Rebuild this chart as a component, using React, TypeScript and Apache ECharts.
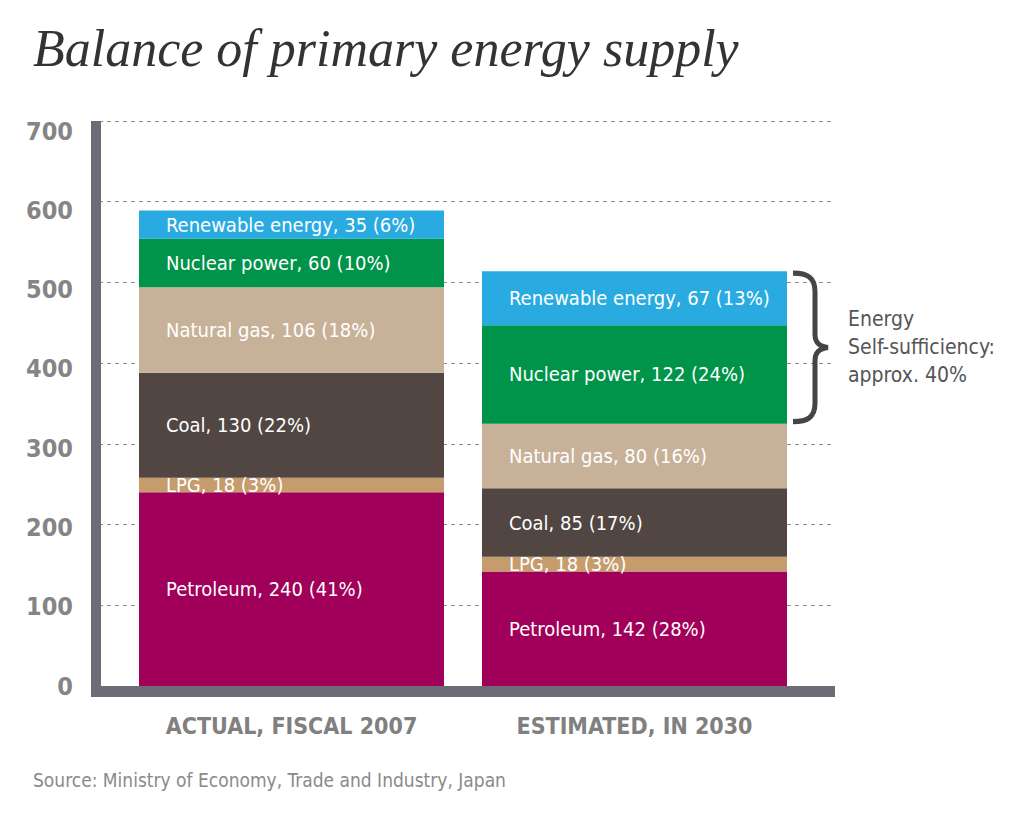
import React, { useEffect, useRef } from "react";
import * as echarts from "echarts";

const categories = ["ACTUAL, FISCAL 2007", "ESTIMATED, IN 2030"];
const seriesNames = ["Petroleum", "LPG", "Coal", "Natural gas", "Nuclear power", "Renewable energy"];
const petroleum = [240, 142];
const lpg = [18, 18];
const coal = [130, 85];
const naturalGas = [106, 80];
const nuclear = [60, 122];
const renewable = [35, 67];
const petroleumPct = [41, 28];
const lpgPct = [3, 3];
const coalPct = [22, 17];
const naturalGasPct = [18, 16];
const nuclearPct = [10, 24];
const renewablePct = [6, 13];
const colors = ["#A1005A", "#C69C6D", "#514641", "#C7B299", "#00934A", "#29ABE2"];
const yMin = 0;
const yMax = 700;
const yInterval = 100;
const title = "Balance of primary energy supply";
const note = "Energy\nSelf-sufficiency:\napprox. 40%";
const source = "Source: Ministry of Economy, Trade and Industry, Japan";

const NARROW = "'Liberation Sans Narrow', 'DejaVu Sans Condensed', sans-serif";
const BRACE_D =
  "M0,2 C14,2 22,6 22,20 L22,62 C22,70 26,74 35,75 C26,76 22,80 22,88 L22,130 C22,144 14,148 0,148";

let braceRegistered = false;

export default function App() {
  const ref = useRef<HTMLDivElement>(null);
  useEffect(() => {
    if (!ref.current) return;
    if (!braceRegistered) {
      echarts.graphic.registerShape("brace", echarts.graphic.extendPath(BRACE_D, {}));
      braceRegistered = true;
    }
    const chart = echarts.init(ref.current, null, { renderer: "svg" });
    const values = [petroleum, lpg, coal, naturalGas, nuclear, renewable];
    const pcts = [petroleumPct, lpgPct, coalPct, naturalGasPct, nuclearPct, renewablePct];
    const axisColor = "#6d6b77";
    const series = seriesNames.map((name, i) => ({
      name,
      type: "bar",
      stack: "total",
      xAxisIndex: 1,
      yAxisIndex: 1,
      barWidth: 305,
      data: values[i],
      itemStyle: { color: colors[i] },
      label: {
        show: true,
        position: "insideLeft",
        distance: 27,
        color: "#ffffff",
        fontFamily: NARROW,
        fontSize: 20,
        overflow: "none",
        formatter: (p: any) => `${name}, ${p.value} (${pcts[i][p.dataIndex]}%)`,
      },
    }));
    chart.setOption({
      animation: false,
      title: {
        text: title,
        left: 28,
        top: 17,
        textStyle: {
          fontFamily: "'Liberation Serif', serif",
          fontStyle: "italic",
          fontWeight: "normal",
          fontSize: 52,
          color: "#333333",
        },
      },
      grid: [
        { left: 91, right: 189, top: 121, height: 565 },
        { left: 120, width: 686, top: 121, height: 565 },
        { left: 101, right: 189, top: 131, height: 555 },
      ],
      xAxis: [
        {
          gridIndex: 0,
          type: "value",
          min: 0,
          max: 1,
          offset: 5.5,
          axisLine: { show: true, onZero: false, lineStyle: { color: axisColor, width: 11, cap: "butt" } },
          axisTick: { show: false },
          axisLabel: { show: false },
          splitLine: { show: false },
        },
        {
          gridIndex: 1,
          type: "category",
          data: categories,
          axisLine: { show: false },
          axisTick: { show: false },
          axisLabel: {
            interval: 0,
            margin: 28,
            color: "#808080",
            fontFamily: NARROW,
            fontWeight: "bold",
            fontSize: 23,
          },
        },
        { gridIndex: 2, type: "value", show: false },
      ],
      yAxis: [
        {
          gridIndex: 0,
          type: "value",
          min: yMin,
          max: yMax,
          interval: yInterval,
          offset: -5,
          axisLine: { show: true, onZero: false, lineStyle: { color: axisColor, width: 10, cap: "butt" } },
          axisTick: { show: false },
          axisLabel: { show: false },
          splitLine: { show: true, lineStyle: { color: "#8f8f8f", type: [4, 4], width: 1 } },
        },
        { gridIndex: 1, type: "value", min: yMin, max: yMax, show: false },
        {
          gridIndex: 2,
          type: "value",
          min: yMin,
          max: yMax,
          interval: yInterval,
          axisLine: { show: false },
          axisTick: { show: false },
          splitLine: { show: false },
          axisLabel: {
            margin: 28,
            color: "#858585",
            fontFamily: NARROW,
            fontWeight: "bold",
            fontSize: 25,
          },
        },
      ],
      series,
    });

    // brace spanning nuclear + renewable of second bar
    const base2 = petroleum[1] + lpg[1] + coal[1] + naturalGas[1];
    const top2 = base2 + nuclear[1] + renewable[1];
    const yTop = chart.convertToPixel({ yAxisIndex: 1 }, top2) as number;
    const yBot = chart.convertToPixel({ yAxisIndex: 1 }, base2) as number;
    const xCenter = chart.convertToPixel({ xAxisIndex: 1 }, 1) as number;
    const bx = xCenter + 152.5 + 6;
    const h = yBot - yTop;
    chart.setOption({
      graphic: [
        {
          type: "brace",
          x: bx,
          y: yTop,
          scaleX: 1,
          scaleY: h / 150,
          style: { fill: "none", stroke: "#454545", lineWidth: 5 },
        },
        {
          type: "text",
          x: 848,
          y: (yTop + yBot) / 2,
          style: {
            text: note,
            fontFamily: NARROW,
            fontSize: 21,
            lineHeight: 28,
            fill: "#555555",
            verticalAlign: "middle",
          },
        },
        {
          type: "text",
          x: 33,
          y: 780,
          style: {
            text: source,
            fontFamily: NARROW,
            fontSize: 19,
            fill: "#8a8a8a",
            verticalAlign: "middle",
          },
        },
      ],
    });
    return () => chart.dispose();
  }, []);
  return <div ref={ref} style={{ width: 1024, height: 819, margin: -8 }} />;
}
